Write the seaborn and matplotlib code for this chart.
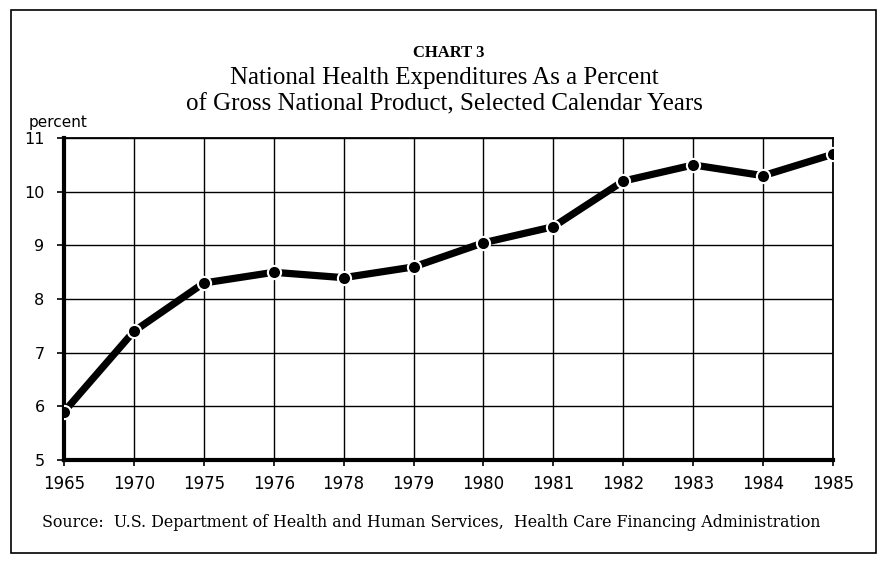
import matplotlib
matplotlib.use("Agg")
import matplotlib.pyplot as plt
import seaborn as sns
import pandas as pd
from matplotlib.patches import Rectangle

years = ["1965", "1970", "1975", "1976", "1978", "1979", "1980", "1981", "1982", "1983", "1984", "1985"]
percent = [5.9, 7.4, 8.3, 8.5, 8.4, 8.6, 9.05, 9.35, 10.2, 10.5, 10.3, 10.7]
y_ticks = [5, 6, 7, 8, 9, 10, 11]

df = pd.DataFrame({"year": years, "percent": percent})

sns.set_theme(style="white")
plt.rcParams["font.family"] = ["DejaVu Sans"]

fig = plt.figure(figsize=(8.8, 5.66), dpi=100)
ax = fig.add_axes([0.0727, 0.187, 0.874, 0.569])

sns.lineplot(data=df, x="year", y="percent", sort=False, ax=ax,
             color="black", linewidth=5.2, marker="o", markersize=9.5,
             markeredgecolor="white", markeredgewidth=1.5, zorder=5)

ax.set_xlim(0, len(years) - 1)
ax.set_ylim(5, 11)
ax.set_yticks(y_ticks)
ax.set_yticklabels([str(t) for t in y_ticks])
ax.set_xticks(range(len(years)))
ax.set_xticklabels(years)
ax.grid(True, color="black", linewidth=1.0)
ax.set_axisbelow(True)
ax.set_xlabel("")
ax.set_ylabel("")
for side in ["top", "right"]:
    ax.spines[side].set_linewidth(1.3)
    ax.spines[side].set_color("black")
for side in ["left", "bottom"]:
    ax.spines[side].set_linewidth(3)
    ax.spines[side].set_color("black")
ax.tick_params(axis="y", which="major", left=True, length=5, width=1.2,
               direction="out", pad=9, labelsize=11.5, colors="black")
ax.tick_params(axis="x", which="major", bottom=True, length=4, width=1.2,
               direction="out", pad=7, labelsize=12, colors="black")

fig.text(0.033, 0.784, "percent", fontsize=11, color="black", ha="left", va="center")

serif = ["Liberation Serif", "DejaVu Serif"]
fig.text(0.51, 0.906, "CHART 3", fontsize=12, ha="center", va="center",
         family=serif, fontweight="bold", color="black")
fig.text(0.505, 0.862, "National Health Expenditures As a Percent", fontsize=18,
         ha="center", va="center", family=serif, color="black")
fig.text(0.505, 0.815, "of Gross National Product, Selected Calendar Years", fontsize=18,
         ha="center", va="center", family=serif, color="black")
fig.text(0.048, 0.076,
         "Source:  U.S. Department of Health and Human Services,  Health Care Financing Administration",
         fontsize=11.4, ha="left", va="center", family=["DejaVu Serif"], color="black")

border = Rectangle((0.0125, 0.023), 0.983, 0.959, transform=fig.transFigure,
                   fill=False, edgecolor="black", linewidth=1.2)
fig.patches.append(border)

fig.savefig("out.png", dpi=100, facecolor="white")
